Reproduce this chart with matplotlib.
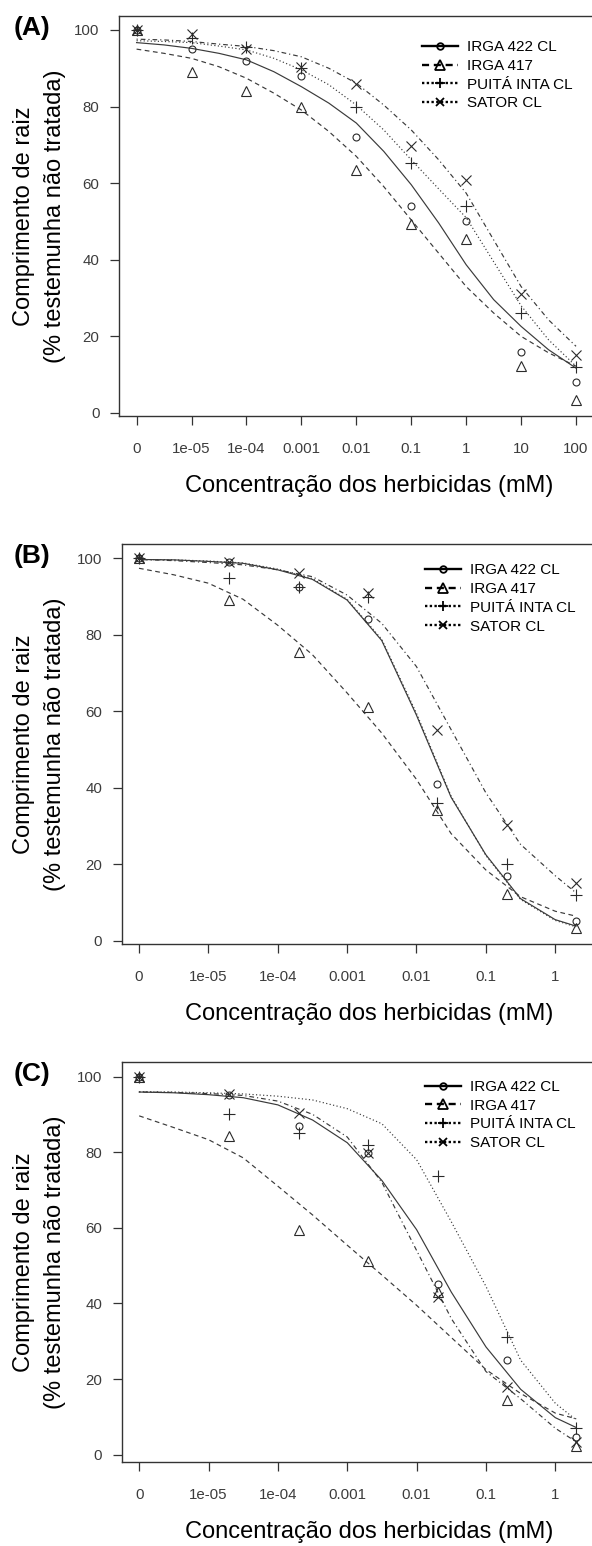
import matplotlib
matplotlib.use("Agg")
import matplotlib.pyplot as plt
from matplotlib.lines import Line2D

plt.rcParams['font.family'] = ['Liberation Sans', 'DejaVu Sans']

# ---------------- data ----------------
cultivars = ["IRGA 422 CL", "IRGA 417", "PUITÁ INTA CL", "SATOR CL"]
zero_pos = 1e-06  # position used for the untreated control (dose 0) on the log axis

# Panel A
dose_A = [0, 1e-05, 1e-04, 0.001, 0.01, 0.1, 1, 10, 100]
ticks_A = [zero_pos, 1e-05, 1e-04, 0.001, 0.01, 0.1, 1, 10, 100]
ticklabels_A = ["0", "1e-05", "1e-04", "0.001", "0.01", "0.1", "1", "10", "100"]
obs_A_irga422 = [100, 95, 92, 88, 72, 54, 50, 16, 8]
obs_A_irga417 = [100, 89, 84, 80, 63.4, 49.3, 45.3, 12.3, 3.4]
obs_A_puita = [100, 97.8, 95.5, 90, 79.8, 65.2, 54, 26, 11.9]
obs_A_sator = [100, 99, 95, 90.4, 85.9, 69.7, 60.8, 31, 15]
fitlog_A = [-6, -5.5, -5, -4.5, -4, -3.5, -3, -2.5, -2, -1.5, -1, -0.5, 0, 0.5, 1, 1.5, 2]
fit_A_irga422 = [96.7, 96.1, 95.2, 93.9, 92.2, 89.1, 85.2, 80.9, 75.7, 68.3, 59.6, 49.6, 38.7, 29.6, 22.6, 16.5, 11.7]
fit_A_irga417 = [95.0, 93.9, 92.6, 90.4, 87.4, 83.5, 79.1, 73.5, 67.0, 59.1, 50.4, 41.7, 33.0, 26.1, 20.0, 15.7, 12.2]
fit_A_puita = [97.2, 97.0, 96.7, 95.8, 94.8, 92.6, 89.6, 85.7, 80.4, 73.9, 66.1, 58.5, 51.0, 39.5, 28.0, 19.1, 12.2]
fit_A_sator = [97.6, 97.4, 97.0, 96.3, 95.7, 94.6, 93.0, 90.0, 86.1, 80.4, 73.9, 66.1, 57.4, 45.2, 33.0, 24.3, 17.4]

# Panel B
dose_B = [0, 2e-05, 2e-04, 0.002, 0.02, 0.2, 2]
ticks_BC = [zero_pos, 1e-05, 1e-04, 0.001, 0.01, 0.1, 1]
ticklabels_BC = ["0", "1e-05", "1e-04", "0.001", "0.01", "0.1", "1"]
obs_B_irga422 = [100, 99, 92.6, 84.1, 40.9, 17, 5.2]
obs_B_irga417 = [100, 89.1, 75.4, 61.1, 34.2, 12.3, 3.2]
obs_B_puita = [100, 94.8, 92.6, 90, 35.9, 20, 11.9]
obs_B_sator = [100, 99.1, 96.1, 91, 55, 30.2, 15.2]
fitlog_BC = [-6, -5.5, -5, -4.5, -4, -3.5, -3, -2.5, -2, -1.5, -1, -0.5, 0, 0.301]
fit_B_irga422 = [99.7, 99.6, 99.2, 98.7, 97.0, 94.5, 89.1, 78.5, 59.0, 37.5, 22.5, 11.0, 5.5, 3.8]
fit_B_irga417 = [97.4, 95.7, 93.5, 89.3, 82.5, 74.8, 64.8, 54.3, 42.2, 28.0, 18.5, 11.5, 7.7, 6.4]
fit_B_puita = [99.7, 99.6, 99.3, 98.8, 97.2, 94.7, 89.3, 78.8, 59.5, 37.8, 22.3, 10.8, 5.3, 3.6]
fit_B_sator = [99.7, 99.4, 98.9, 98.3, 97.0, 95.2, 90.4, 83.0, 71.7, 55.2, 38.7, 25.2, 17.0, 12.5]

# Panel C
dose_C = [0, 2e-05, 2e-04, 0.002, 0.02, 0.2, 2]
obs_C_irga422 = [100, 95.1, 87, 79.9, 45.1, 25, 4.8]
obs_C_irga417 = [100, 84.3, 59.4, 51.3, 43.1, 14.4, 2.3]
obs_C_puita = [100, 90, 85, 81.9, 73.8, 31.2, 7.1]
obs_C_sator = [100, 95.4, 90.3, 79.9, 41.7, 17.9, 3.4]
fit_C_irga422 = [95.9, 95.7, 95.2, 94.4, 92.5, 88.5, 82.5, 72.5, 59.5, 43.0, 28.5, 17.3, 9.8, 7.2]
fit_C_irga417 = [89.6, 86.5, 83.3, 78.5, 71.0, 63.4, 55.4, 47.5, 39.5, 31.0, 22.5, 16.2, 11.0, 9.5]
fit_C_puita = [96.0, 95.9, 95.7, 95.4, 94.8, 93.8, 91.5, 87.5, 78.0, 61.6, 44.5, 25.0, 13.6, 9.2]
fit_C_sator = [95.9, 95.8, 95.5, 95.0, 93.5, 90.0, 84.0, 72.0, 54.0, 36.0, 22.0, 14.8, 7.0, 3.4]

yticks = [0, 20, 40, 60, 80, 100]
panel_labels = ["(A)", "(B)", "(C)"]
ylabel_lines = ["Comprimento de raiz", "(% testemunha não tratada)"]
xlabel = "Concentração dos herbicidas (mM)"

# ---------------- styles ----------------
W, H = 592, 1546
fig = plt.figure(figsize=(W / 100, H / 100), dpi=100)

curve_styles = [
    dict(linestyle='-'),
    dict(linestyle=(0, (4, 3))),
    dict(linestyle=(0, (1, 2))),
    dict(linestyle=(0, (1, 2.5, 4, 2.5))),
]
markers = [dict(marker='o', markersize=5),
           dict(marker='^', markersize=7),
           dict(marker='+', markersize=8),
           dict(marker='x', markersize=6.5)]
legend_ls = ['-', (0, (3, 2)), (0, (1, 1)), (0, (1, 1))]

INK = '#333333'


def px_axes(left, right, top, bottom):
    return [left / W, 1 - bottom / H, (right - left) / W, (bottom - top) / H]


panels = [
    dict(rect=px_axes(119, 593.6, 16, 416), xlim=(10 ** -6.32, 10 ** 2.32), ylim=(-0.8, 103.65),
         dose=dose_A, ticks=ticks_A, ticklabels=ticklabels_A, fitlog=fitlog_A,
         obs=[obs_A_irga422, obs_A_irga417, obs_A_puita, obs_A_sator],
         fit=[fit_A_irga422, fit_A_irga417, fit_A_puita, fit_A_sator],
         top=16, bottom=416, leg=(0.638, 0.9395)),
    dict(rect=px_axes(121.5, 593.5, 543.5, 944), xlim=(10 ** -6.252, 10 ** 0.553), ylim=(-0.88, 103.88),
         dose=dose_B, ticks=ticks_BC, ticklabels=ticklabels_BC, fitlog=fitlog_BC,
         obs=[obs_B_irga422, obs_B_irga417, obs_B_puita, obs_B_sator],
         fit=[fit_B_irga422, fit_B_irga417, fit_B_puita, fit_B_sator],
         top=543.5, bottom=944, leg=(0.643, 0.9505)),
    dict(rect=px_axes(121.7, 593.7, 1061.7, 1462), xlim=(10 ** -6.252, 10 ** 0.553), ylim=(-1.92, 103.92),
         dose=dose_C, ticks=ticks_BC, ticklabels=ticklabels_BC, fitlog=fitlog_BC,
         obs=[obs_C_irga422, obs_C_irga417, obs_C_puita, obs_C_sator],
         fit=[fit_C_irga422, fit_C_irga417, fit_C_puita, fit_C_sator],
         top=1061.7, bottom=1462, leg=(0.643, 0.9545)),
]

for i, p in enumerate(panels):
    ax = fig.add_axes(p['rect'])
    ax.set_xscale('log')
    xs_obs = [d if d > 0 else zero_pos for d in p['dose']]
    xs_fit = [10 ** v for v in p['fitlog']]
    for k in range(4):
        ax.plot(xs_fit, p['fit'][k], color='#3a3a3a', lw=0.85, **curve_styles[k])
        ax.plot(xs_obs, p['obs'][k], linestyle='none', mfc='none', mec='#2a2a2a',
                mew=0.8, **markers[k])
    ax.set_xlim(*p['xlim'])
    ax.set_ylim(*p['ylim'])
    ax.set_xticks(p['ticks'])
    ax.set_xticklabels(p['ticklabels'])
    ax.minorticks_off()
    ax.set_yticks(yticks)
    ax.set_yticklabels([str(v) for v in yticks])
    for s in ax.spines.values():
        s.set_color(INK)
        s.set_linewidth(1.0)
    ax.tick_params(axis='both', direction='out', length=6.5, width=0.9, color=INK,
                   labelsize=10.8, labelcolor='#3c3c3c')
    ax.tick_params(axis='x', pad=12.5)
    ax.tick_params(axis='y', pad=7.5)

    handles = []
    for k in range(4):
        handles.append(Line2D([], [], color='black', lw=1.7, linestyle=legend_ls[k],
                              marker=markers[k]['marker'],
                              markersize=markers[k]['markersize'] * 0.95,
                              mfc='none', mec='black', mew=1.3))
    ax.legend(handles, cultivars, loc='upper left', bbox_to_anchor=p['leg'],
              frameon=False, borderpad=0, borderaxespad=0, handlelength=2.36,
              handletextpad=0.6, labelspacing=0.31, fontsize=11, markerscale=1.0)

    cy = (p['top'] + p['bottom']) / 2
    fig.text(24 / W, 1 - cy / H, ylabel_lines[0], rotation=90, ha='center', va='center',
             fontsize=17, color='black')
    fig.text(55 / W, 1 - cy / H, ylabel_lines[1], rotation=90, ha='center', va='center',
             fontsize=17, color='black')
    fig.text(369 / W, 1 - (p['bottom'] + 70) / H, xlabel, ha='center', va='center',
             fontsize=17, color='black')
    fig.text(32 / W, 1 - (p['top'] + 12.5) / H, panel_labels[i], ha='center', va='center',
             fontsize=19, fontweight='bold', color='black')

fig.savefig('out.png', dpi=100)
